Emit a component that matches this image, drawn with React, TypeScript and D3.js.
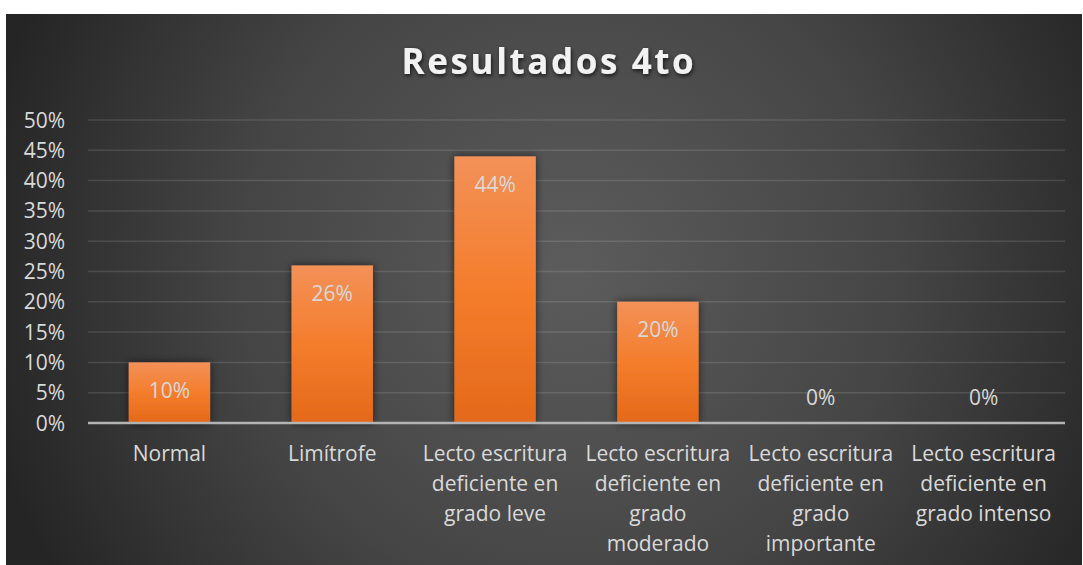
import React, { useEffect } from "react";
import * as d3 from "d3";

const categories = [
  "Normal",
  "Limítrofe",
  "Lecto escritura deficiente en grado leve",
  "Lecto escritura deficiente en grado moderado",
  "Lecto escritura deficiente en grado importante",
  "Lecto escritura deficiente en grado intenso",
];
const categoryLines = [
  ["Normal"],
  ["Limítrofe"],
  ["Lecto escritura", "deficiente en", "grado leve"],
  ["Lecto escritura", "deficiente en", "grado", "moderado"],
  ["Lecto escritura", "deficiente en", "grado", "importante"],
  ["Lecto escritura", "deficiente en", "grado intenso"],
];
const values = [0.1, 0.26, 0.44, 0.2, 0, 0];
const yTicks = [0, 0.05, 0.1, 0.15, 0.2, 0.25, 0.3, 0.35, 0.4, 0.45, 0.5];
const title = "Resultados 4to";

const W = 1083;
const H = 565;
const FONT = "'Open Sans', 'Noto Sans', sans-serif";

export default function App() {
  useEffect(() => {
    document.body.style.margin = "0";
  }, []);

  const x = d3
    .scaleBand<string>()
    .domain(categories)
    .range([88, 1065])
    .paddingInner(0.5)
    .paddingOuter(0.25);
  const y = d3.scaleLinear().domain([0, 0.5]).range([423, 120]);
  const fmt = d3.format(".0%");

  return (
    <svg width={W} height={H} style={{ display: "block" }}>
      <defs>
        <radialGradient id="bg" gradientUnits="userSpaceOnUse" cx={570} cy={270} r={600}>
          <stop offset="0" stopColor="#5c5c5c" />
          <stop offset="0.55" stopColor="#454545" />
          <stop offset="1" stopColor="#252525" />
        </radialGradient>
        <linearGradient id="bar" x1="0" y1="0" x2="0" y2="1">
          <stop offset="0" stopColor="#f39158" />
          <stop offset="0.5" stopColor="#f47d2c" />
          <stop offset="1" stopColor="#e4691a" />
        </linearGradient>
        <filter id="shadow" x="-30%" y="-30%" width="160%" height="160%">
          <feGaussianBlur in="SourceAlpha" stdDeviation="4" />
          <feOffset dx="0" dy="0" result="b" />
          <feComponentTransfer>
            <feFuncA type="linear" slope="0.6" />
          </feComponentTransfer>
          <feMerge>
            <feMergeNode />
            <feMergeNode in="SourceGraphic" />
          </feMerge>
        </filter>
        <filter id="tshadow" x="-10%" y="-30%" width="120%" height="160%">
          <feGaussianBlur in="SourceAlpha" stdDeviation="2" />
          <feOffset dx="1" dy="2" />
          <feComponentTransfer>
            <feFuncA type="linear" slope="0.7" />
          </feComponentTransfer>
          <feMerge>
            <feMergeNode />
            <feMergeNode in="SourceGraphic" />
          </feMerge>
        </filter>
      </defs>
      <rect x={0} y={0} width={W} height={H} fill="#ffffff" />
      <rect x={6} y={14} width={1076} height={H - 14} fill="url(#bg)" />

      <text
        x={549}
        y={74}
        textAnchor="middle"
        fontFamily={FONT}
        fontWeight={700}
        fontSize={35}
        letterSpacing={2.6}
        fill="#f2f2f2"
        filter="url(#tshadow)"
      >
        {title}
      </text>

      {yTicks.map((t) => (
        <g key={t}>
          {t > 0 && (
            <line
              x1={88}
              x2={1065}
              y1={y(t)}
              y2={y(t)}
              stroke="#ffffff"
              strokeOpacity={0.12}
              strokeWidth={1.5}
            />
          )}
          <text
            x={65}
            y={y(t)}
            dy="0.36em"
            textAnchor="end"
            fontFamily={FONT}
            fontSize={21}
            fill="#d9d9d9"
          >
            {fmt(t)}
          </text>
        </g>
      ))}

      {categories.map((c, i) => {
        const v = values[i];
        const bx = x(c)!;
        const bw = x.bandwidth();
        return (
          <g key={c}>
            {v > 0 && (
              <rect
                x={bx}
                y={y(v)}
                width={bw}
                height={y(0) - y(v)}
                fill="url(#bar)"
                filter="url(#shadow)"
              />
            )}
          </g>
        );
      })}

      <line x1={88} x2={1065} y1={y(0)} y2={y(0)} stroke="#b3b3b3" strokeWidth={2.5} />

      {categories.map((c, i) => {
        const v = values[i];
        const cx = x(c)! + x.bandwidth() / 2;
        return (
          <g key={c + "l"}>
            <text
              x={cx}
              y={y(v) + (v > 0 ? 28 : -26)}
              dy="0.36em"
              textAnchor="middle"
              fontFamily={FONT}
              fontSize={21}
              fill="#d9d9d9"
            >
              {fmt(v)}
            </text>
            {categoryLines[i].map((ln, j) => (
              <text
                key={j}
                x={cx}
                y={453 + j * 30}
                dy="0.36em"
                textAnchor="middle"
                fontFamily={FONT}
                fontSize={21}
                fill="#d9d9d9"
              >
                {ln}
              </text>
            ))}
          </g>
        );
      })}
    </svg>
  );
}
